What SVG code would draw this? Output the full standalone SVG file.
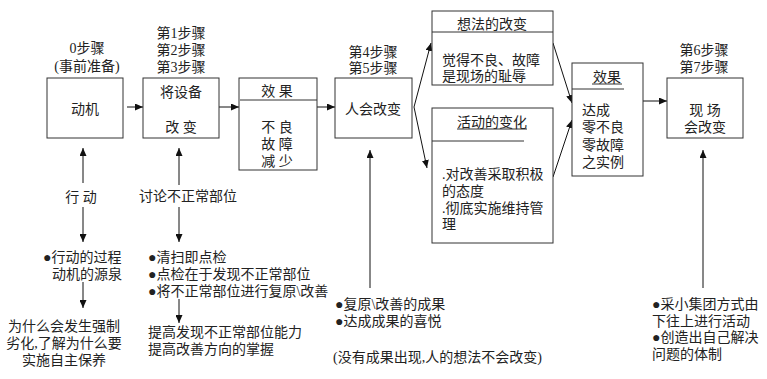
<svg xmlns="http://www.w3.org/2000/svg" width="767" height="379" viewBox="0 0 767 379">
<defs>
<marker id="ah" markerUnits="userSpaceOnUse" markerWidth="8" markerHeight="7" refX="8" refY="3.5" orient="auto">
<path d="M0,0 L8,3.5 L0,7 z" fill="#111"/>
</marker>
<style>
text{font-family:"Liberation Serif","Noto Sans CJK SC",serif;font-size:14px;fill:#222}
.m{text-anchor:middle}
.box{fill:#fff;stroke:#333;stroke-width:1}
.ln{stroke:#333;stroke-width:1;fill:none}
.ar{stroke:#111;stroke-width:1;fill:none;marker-end:url(#ah)}
</style>
</defs>
<rect width="767" height="379" fill="#fff"/>

<g id="connectors">
<line class="ar" x1="127" y1="107" x2="143" y2="107"/>
<line class="ar" x1="219" y1="107" x2="239" y2="107"/>
<line class="ar" x1="317" y1="107" x2="335" y2="107"/>
<line class="ar" x1="414" y1="107" x2="431" y2="43"/>
<line class="ar" x1="414" y1="107" x2="427" y2="168"/>
<line class="ar" x1="553" y1="43" x2="572" y2="103"/>
<line class="ar" x1="553" y1="177" x2="572" y2="120"/>
<line class="ar" x1="643" y1="101" x2="667" y2="101"/>
<line class="ar" x1="83" y1="183" x2="83" y2="148"/>
<line class="ar" x1="83" y1="207" x2="83" y2="242"/>
<line class="ar" x1="83" y1="282" x2="83" y2="308"/>
<line class="ar" x1="179" y1="185" x2="179" y2="148"/>
<line class="ar" x1="179" y1="207" x2="179" y2="242"/>
<line class="ar" x1="179" y1="299" x2="179" y2="323"/>
<line class="ar" x1="370" y1="288" x2="370" y2="150"/>
<line class="ar" x1="703" y1="288" x2="703" y2="150"/>
</g>

<g id="n-step0">
<text class="m" x="87" y="53">0步骤</text>
<text class="m" x="87" y="71">(事前准备)</text>
<rect class="box" x="47" y="78" width="76" height="60"/>
<text class="m" x="85" y="114">动机</text>
</g>

<g id="n-step123">
<text class="m" x="181" y="38">第1步骤</text>
<text class="m" x="181" y="55">第2步骤</text>
<text class="m" x="181" y="72">第3步骤</text>
<rect class="box" x="143" y="78" width="76" height="60"/>
<text class="m" x="181" y="97">将设备</text>
<text class="m" x="181" y="132">改 变</text>
</g>

<g id="n-effect1">
<rect class="box" x="239" y="78" width="78" height="92"/>
<line class="ln" x1="240" y1="100" x2="317" y2="100"/>
<text class="m" x="277" y="96">效 果</text>
<text class="m" x="277" y="132">不 良</text>
<text class="m" x="277" y="149">故 障</text>
<text class="m" x="277" y="166">减 少</text>
</g>

<g id="n-step45">
<text class="m" x="373" y="57">第4步骤</text>
<text class="m" x="373" y="73">第5步骤</text>
<rect class="box" x="335" y="78" width="77" height="60"/>
<text class="m" x="373" y="114">人会改变</text>
</g>

<g id="n-thought">
<rect class="box" x="432" y="11" width="121" height="74"/>
<line class="ln" x1="432" y1="32" x2="553" y2="32"/>
<text class="m" x="492" y="29">想法的改变</text>
<text x="442" y="65">觉得不良、故障</text>
<text x="442" y="81">是现场的耻辱</text>
</g>

<g id="n-activity">
<rect class="box" x="432" y="108" width="121" height="135"/>
<text class="m" x="492" y="127">活动的变化</text>
<line class="ln" x1="457" y1="129" x2="527" y2="129"/>
<line class="ln" x1="432" y1="141" x2="524" y2="141"/>
<text x="442" y="179">.对改善采取积极</text>
<text x="442" y="196">的态度</text>
<text x="442" y="213">.彻底实施维持管</text>
<text x="442" y="229">理</text>
</g>

<g id="n-effect2">
<rect class="box" x="572" y="63" width="71" height="113"/>
<text class="m" x="607" y="82">效果</text>
<line class="ln" x1="592" y1="84" x2="622" y2="84"/>
<line class="ln" x1="572" y1="89" x2="624" y2="89"/>
<text x="582" y="115">达成</text>
<text x="582" y="132">零不良</text>
<text x="582" y="150">零故障</text>
<text x="582" y="167">之实例</text>
</g>

<g id="n-step67">
<text class="m" x="704" y="55">第6步骤</text>
<text class="m" x="704" y="72">第7步骤</text>
<rect class="box" x="667" y="78" width="76" height="60"/>
<text class="m" x="705" y="115">现 场</text>
<text class="m" x="705" y="132">会改变</text>
</g>

<g id="n-action">
<text class="m" x="81" y="202">行 动</text>
<text x="43" y="262">●行动的过程</text>
<text x="52" y="279">动机的源泉</text>
<text class="m" x="64" y="331">为什么会发生强制</text>
<text class="m" x="64" y="348">劣化,了解为什么要</text>
<text class="m" x="64" y="365">实施自主保养</text>
</g>

<g id="n-discuss">
<text class="m" x="188" y="201">讨论不正常部位</text>
<text x="148" y="262">●清扫即点检</text>
<text x="148" y="279">●点检在于发现不正常部位</text>
<text x="148" y="296">●将不正常部位进行复原\改善</text>
<text x="148" y="337">提高发现不正常部位能力</text>
<text x="148" y="354">提高改善方向的掌握</text>
</g>

<g id="n-result">
<text x="335" y="309">●复原\改善的成果</text>
<text x="335" y="326">●达成成果的喜悦</text>
<text x="333" y="362">(没有成果出现,人的想法不会改变)</text>
</g>

<g id="n-group">
<text x="652" y="309">●采小集团方式由</text>
<text x="652" y="326">下往上进行活动</text>
<text x="652" y="342">●创造出自己解决</text>
<text x="652" y="359">问题的体制</text>
</g>
</svg>
